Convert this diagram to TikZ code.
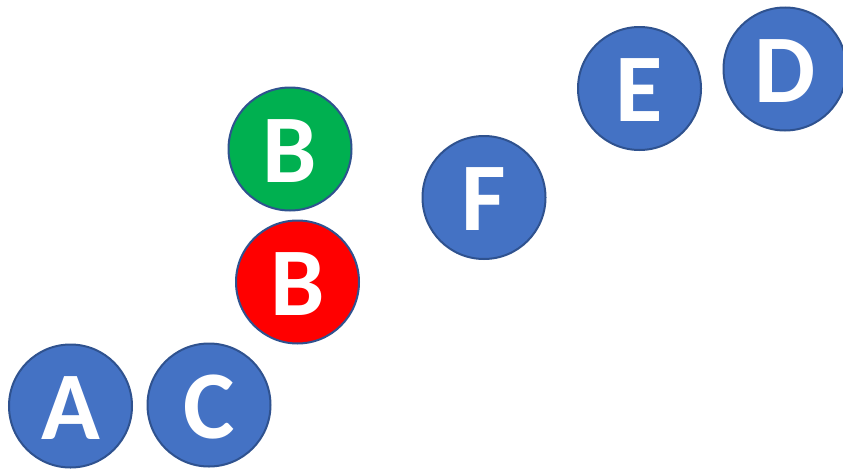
\documentclass[tikz,border=0pt]{standalone}
\usepackage{fontspec}
\setmainfont{Carlito}
\usepackage{tikz}
\definecolor{nodeBlue}{HTML}{4472C4}
\definecolor{nodeGreen}{HTML}{00B050}
\definecolor{nodeRed}{HTML}{FF0000}
\definecolor{borderColor}{HTML}{2F528F}
\tikzstyle{canvas} = [x = 1pt, y = -1pt]
\tikzstyle{letterStyle} = [circle, draw=borderColor, line width=2pt, minimum size=123pt, inner sep=0pt, text=white, font=\fontsize{97}{97}\selectfont\bfseries, text height=66pt, text depth=0pt]
\newcommand{\letterNode}[5]{\node [letterStyle, fill=#4] (#1) at (#2, #3) {#5};}
\begin{document}
\begin{tikzpicture}[canvas]
    \useasboundingbox (0,0) rectangle (843,471);
    \letterNode{a}{70.5}{406}{nodeBlue}{A}
    \letterNode{c}{209}{405}{nodeBlue}{C}
    \letterNode{bRed}{297.5}{282}{nodeRed}{B}
    \letterNode{bGreen}{290}{149}{nodeGreen}{B}
    \letterNode{f}{484}{197.5}{nodeBlue}{F}
    \letterNode{e}{639.5}{88.5}{nodeBlue}{E}
    \letterNode{d}{785}{69}{nodeBlue}{D}
\end{tikzpicture}
\end{document}
